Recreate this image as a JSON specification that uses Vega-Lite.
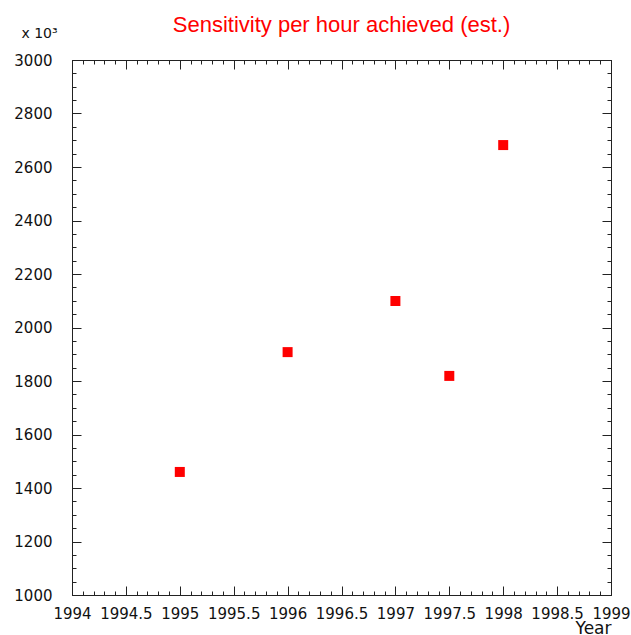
{
  "$schema": "https://vega.github.io/schema/vega-lite/v6.json",
  "width": 539,
  "height": 535,
  "autosize": "none",
  "padding": {"left": 72, "top": 60, "right": 20, "bottom": 40},
  "background": "white",
  "title": {"text": "Sensitivity per hour achieved (est.)", "color": "#ff0000", "font": "Liberation Sans", "fontSize": 22, "fontWeight": "normal", "anchor": "middle", "offset": -11},
  "config": {
    "view": {"stroke": null},
    "axis": {"domainColor": "#222222", "tickColor": "#222222", "labelColor": "#111111", "labelFont": "DejaVu Sans", "labelFontSize": 15, "titleFont": "DejaVu Sans", "titleFontWeight": "normal", "titleFontSize": 17, "titleColor": "#111111", "grid": false, "domainWidth": 1, "tickWidth": 1, "offset": 0}
  },
  "data": {"values": [
    {"Year": 1995, "Value": 1460},
    {"Year": 1996, "Value": 1908},
    {"Year": 1997, "Value": 2099},
    {"Year": 1997.5, "Value": 1819},
    {"Year": 1998, "Value": 2682}
  ]},
  "layer": [
    {
      "mark": {"type": "square", "size": 100, "color": "#ff0000", "opacity": 1, "filled": true},
      "encoding": {
        "x": {"field": "Year", "type": "quantitative", "scale": {"domain": [1994, 1999], "nice": false, "zero": false},
              "axis": {"orient": "bottom", "values": [1994, 1994.5, 1995, 1995.5, 1996, 1996.5, 1997, 1997.5, 1998, 1998.5, 1999], "tickSize": -9, "labelPadding": 20, "labelFlush": false, "labelOverlap": false, "format": "", "title": "Year", "titleAlign": "right", "titleAnchor": "end", "titleX": 539, "titleY": 38, "titleBaseline": "alphabetic"}},
        "y": {"field": "Value", "type": "quantitative", "scale": {"domain": [1000, 3000], "nice": false, "zero": false},
              "axis": {"orient": "left", "values": [1000, 1200, 1400, 1600, 1800, 2000, 2200, 2400, 2600, 2800, 3000], "tickSize": -9, "labelPadding": 29, "labelFlush": false, "labelOverlap": false, "format": "d", "title": "x 10³", "titleAngle": 0, "titleAlign": "center", "titleX": -33, "titleY": -23, "titleFontSize": 14, "titleBaseline": "alphabetic"}}
      }
    },
    {
      "mark": {"type": "point", "opacity": 0},
      "encoding": {
        "x": {"field": "Year", "type": "quantitative",
              "axis": {"orient": "bottom", "values": [1994, 1994.1, 1994.2, 1994.3, 1994.4, 1994.5, 1994.6, 1994.7, 1994.8, 1994.9, 1995, 1995.1, 1995.2, 1995.3, 1995.4, 1995.5, 1995.6, 1995.7, 1995.8, 1995.9, 1996, 1996.1, 1996.2, 1996.3, 1996.4, 1996.5, 1996.6, 1996.7, 1996.8, 1996.9, 1997, 1997.1, 1997.2, 1997.3, 1997.4, 1997.5, 1997.6, 1997.7, 1997.8, 1997.9, 1998, 1998.1, 1998.2, 1998.3, 1998.4, 1998.5, 1998.6, 1998.7, 1998.8, 1998.9, 1999], "tickSize": -4, "labels": false, "domain": false, "title": null}},
        "y": {"field": "Value", "type": "quantitative",
              "axis": {"orient": "left", "values": [1000, 1050, 1100, 1150, 1200, 1250, 1300, 1350, 1400, 1450, 1500, 1550, 1600, 1650, 1700, 1750, 1800, 1850, 1900, 1950, 2000, 2050, 2100, 2150, 2200, 2250, 2300, 2350, 2400, 2450, 2500, 2550, 2600, 2650, 2700, 2750, 2800, 2850, 2900, 2950, 3000], "tickSize": -4, "labels": false, "domain": false, "title": null}}
      }
    },
    {
      "mark": {"type": "point", "opacity": 0},
      "encoding": {
        "x": {"field": "Year", "type": "quantitative",
              "axis": {"orient": "top", "values": [1994, 1994.5, 1995, 1995.5, 1996, 1996.5, 1997, 1997.5, 1998, 1998.5, 1999], "tickSize": -9, "labels": false, "domain": true, "title": null}},
        "y": {"field": "Value", "type": "quantitative",
              "axis": {"orient": "right", "values": [1000, 1200, 1400, 1600, 1800, 2000, 2200, 2400, 2600, 2800, 3000], "tickSize": -9, "labels": false, "domain": true, "title": null}}
      }
    },
    {
      "mark": {"type": "point", "opacity": 0},
      "encoding": {
        "x": {"field": "Year", "type": "quantitative",
              "axis": {"orient": "top", "values": [1994, 1994.1, 1994.2, 1994.3, 1994.4, 1994.5, 1994.6, 1994.7, 1994.8, 1994.9, 1995, 1995.1, 1995.2, 1995.3, 1995.4, 1995.5, 1995.6, 1995.7, 1995.8, 1995.9, 1996, 1996.1, 1996.2, 1996.3, 1996.4, 1996.5, 1996.6, 1996.7, 1996.8, 1996.9, 1997, 1997.1, 1997.2, 1997.3, 1997.4, 1997.5, 1997.6, 1997.7, 1997.8, 1997.9, 1998, 1998.1, 1998.2, 1998.3, 1998.4, 1998.5, 1998.6, 1998.7, 1998.8, 1998.9, 1999], "tickSize": -4, "labels": false, "domain": false, "title": null}},
        "y": {"field": "Value", "type": "quantitative",
              "axis": {"orient": "right", "values": [1000, 1050, 1100, 1150, 1200, 1250, 1300, 1350, 1400, 1450, 1500, 1550, 1600, 1650, 1700, 1750, 1800, 1850, 1900, 1950, 2000, 2050, 2100, 2150, 2200, 2250, 2300, 2350, 2400, 2450, 2500, 2550, 2600, 2650, 2700, 2750, 2800, 2850, 2900, 2950, 3000], "tickSize": -4, "labels": false, "domain": false, "title": null}}
      }
    }
  ],
  "resolve": {"scale": {"x": "shared", "y": "shared"}, "axis": {"x": "independent", "y": "independent"}}
}
